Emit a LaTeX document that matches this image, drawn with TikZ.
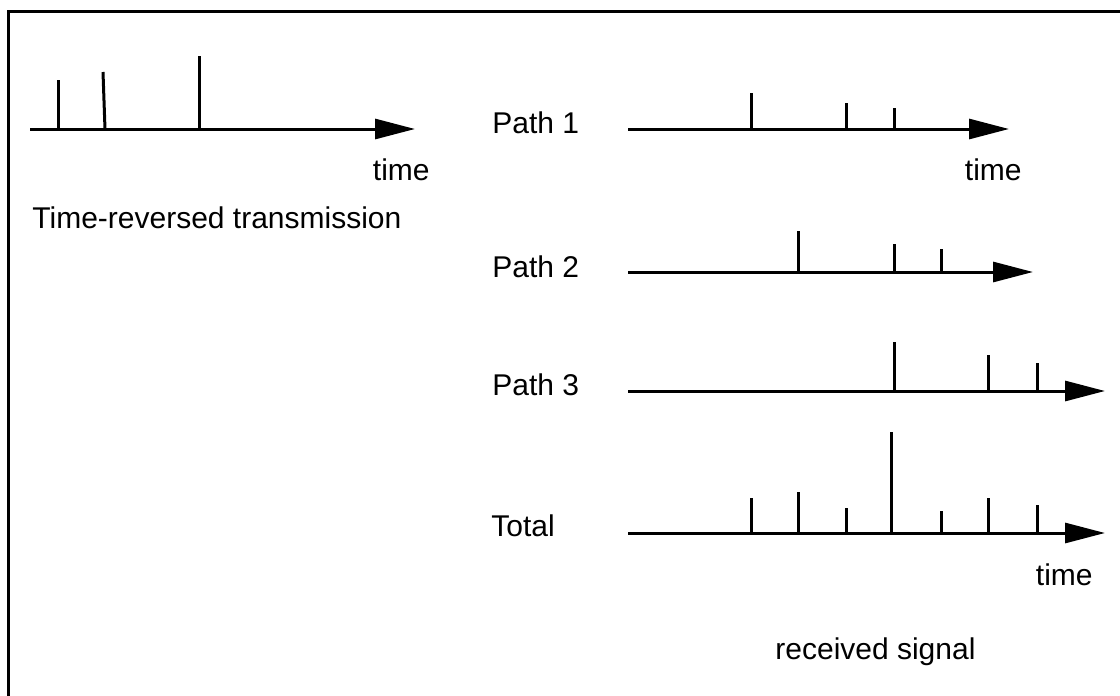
\documentclass[tikz,border=0pt]{standalone}
\usepackage{fontspec}
\setmainfont{Liberation Sans}
\usetikzlibrary{arrows.meta}
\begin{document}
\begin{tikzpicture}[x=0.5pt,y=-0.5pt,
  axis/.style={line width=1.5pt,-{Triangle[length=20pt,width=10pt]}},
  spike/.style={line width=1.5pt},
  frame/.style={line width=1.5pt},
  lbl/.style={font=\fontsize{15}{18}\selectfont,inner sep=0pt}]
\useasboundingbox (0,0) rectangle (1120,696);
% outer frame (left and top edges)
\draw[frame] (8,696) -- (8,11) -- (1120,11);

% time-reversed transmission
\coordinate (t0) at (30,129);
\coordinate (t1) at (415,129);
\draw[axis] (t0) -- (t1);
\draw[spike] (58,129) -- (58,80);
\draw[spike] (105,129) -- (103,72);
\draw[spike] (199,129) -- (199,56);
\node[lbl,anchor=east] (ttime) at (430,170) {time};
\node[lbl,anchor=west] (tlabel) at (32,218) {Time-reversed transmission};

% path 1
\node[lbl,anchor=west] (p1) at (492,123) {Path 1};
\coordinate (a1s) at (628,129);
\coordinate (a1e) at (1009,129);
\draw[axis] (a1s) -- (a1e);
\foreach \x/\t in {751/93, 846/103, 894/108}
  \draw[spike] (\x,129) -- (\x,\t);
\node[lbl,anchor=east] (p1time) at (1022,170) {time};

% path 2
\node[lbl,anchor=west] (p2) at (492,267) {Path 2};
\coordinate (a2s) at (628,272);
\coordinate (a2e) at (1033,272);
\draw[axis] (a2s) -- (a2e);
\foreach \x/\t in {798/231, 894/244, 941/249}
  \draw[spike] (\x,272) -- (\x,\t);

% path 3
\node[lbl,anchor=west] (p3) at (492,385) {Path 3};
\coordinate (a3s) at (628,391);
\coordinate (a3e) at (1105,391);
\draw[axis] (a3s) -- (a3e);
\foreach \x/\t in {894/342, 988/355, 1037/363}
  \draw[spike] (\x,391) -- (\x,\t);

% total
\node[lbl,anchor=west] (tot) at (491,526) {Total};
\coordinate (a4s) at (628,533);
\coordinate (a4e) at (1105,533);
\draw[axis] (a4s) -- (a4e);
\foreach \x/\t in {751/498, 798/492, 846/508, 891/432, 941/511, 988/498, 1037/505}
  \draw[spike] (\x,533) -- (\x,\t);
\node[lbl,anchor=east] (tottime) at (1093,575) {time};
\node[lbl,anchor=west] (recv) at (775,652) {received signal};
\end{tikzpicture}
\end{document}
